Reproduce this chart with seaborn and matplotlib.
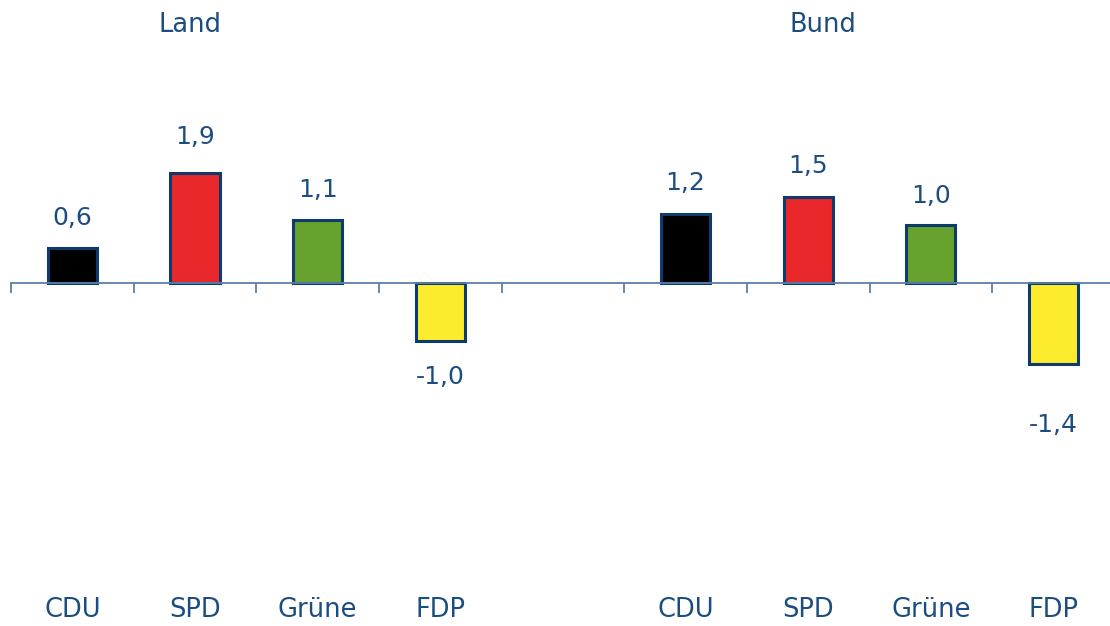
import numpy as np
import pandas as pd
import matplotlib
matplotlib.use("Agg")
import matplotlib.pyplot as plt
import matplotlib.transforms as mtransforms
import seaborn as sns

# data
groups = ["Land", "Bund"]
parties = ["CDU", "SPD", "Grüne", "FDP"]
land_values = [0.6, 1.9, 1.1, -1.0]
bund_values = [1.2, 1.5, 1.0, -1.4]
value_labels_land = ["0,6", "1,9", "1,1", "-1,0"]
value_labels_bund = ["1,2", "1,5", "1,0", "-1,4"]

party_colors = {"CDU": "#000000", "SPD": "#e9282c", "Grüne": "#66a22d", "FDP": "#fcec2d"}
text_color = "#1c4d80"
edge_color = "#0d3b6e"
axis_color = "#5b80a8"

# build table: 4 Land slots, 1 empty slot, 4 Bund slots
slots = [f"Land {p}" for p in parties] + ["gap"] + [f"Bund {p}" for p in parties]
df = pd.DataFrame({
    "slot": [f"Land {p}" for p in parties] + [f"Bund {p}" for p in parties],
    "party": parties + parties,
    "value": land_values + bund_values,
    "label": value_labels_land + value_labels_bund,
})

sns.set_style("white")
plt.rcParams["font.family"] = ["DejaVu Sans"]

fig = plt.figure(figsize=(11.1, 6.26), dpi=100)
ax = fig.add_axes([11 / 1110, 0, 1 - 11 / 1110, 1])

sns.barplot(data=df, x="slot", y="value", hue="party", palette=party_colors,
            order=slots, hue_order=parties, dodge=False, width=0.4, saturation=1,
            edgecolor=edge_color, linewidth=2.2, legend=False, ax=ax)

ax.set_xlim(-0.5, 8.46)
ax.set_ylim(-5.94, 4.905)

for s in ["top", "right", "left"]:
    ax.spines[s].set_visible(False)
ax.spines["bottom"].set_position(("data", 0))
ax.spines["bottom"].set_color(axis_color)
ax.spines["bottom"].set_linewidth(1.3)
ax.spines["bottom"].set_zorder(1)

ax.set_xticks(np.arange(len(slots)) - 0.5)
ax.set_xticklabels([])
ax.tick_params(axis="x", bottom=True, length=7, width=1.3, color=axis_color, direction="out")
ax.set_yticks([])
ax.set_xlabel("")
ax.set_ylabel("")

# value labels
label_offsets = [22, 26, 21, -26, 22, 22, 21, -44]
xpos = {s: i for i, s in enumerate(slots)}
for (_, row), off in zip(df.iterrows(), label_offsets):
    ax.annotate(row["label"], (xpos[row["slot"]], row["value"]),
                xytext=(0, off), textcoords="offset points",
                ha="center", va="center", fontsize=18, color=text_color)

# category names along the bottom
trans = mtransforms.blended_transform_factory(ax.transData, ax.transAxes)
for s in slots:
    if s == "gap":
        continue
    ax.text(xpos[s], 16 / 626, s.split(" ", 1)[1], transform=trans,
            ha="center", va="center", fontsize=18.5, color=text_color)

# group titles
ax.text(0.96, 1 - 25 / 626, groups[0], transform=trans,
        ha="center", va="center", fontsize=18.5, color=text_color)
ax.text(6.12, 1 - 25 / 626, groups[1], transform=trans,
        ha="center", va="center", fontsize=18.5, color=text_color)

fig.savefig("out.png", dpi=100)
